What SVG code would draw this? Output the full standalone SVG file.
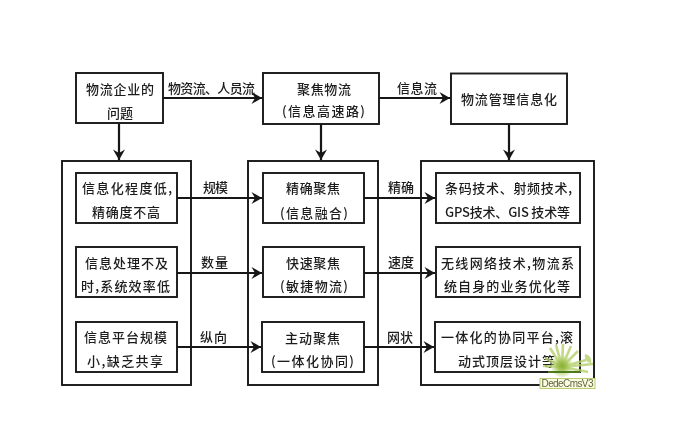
<svg xmlns="http://www.w3.org/2000/svg" width="686" height="431" viewBox="0 0 686 431">
<style>
.b{fill:#fff;stroke:#1a1a1a;stroke-width:1.9}
.p{fill:none;stroke:#1a1a1a;stroke-width:1.9}
text{font-family:"Noto Sans CJK SC","Liberation Sans",sans-serif;font-size:13px;fill:#1c1c1c;font-weight:500}
.c{fill:none;stroke:#161616;stroke-width:2.200;marker-end:url(#a)}
</style>
<defs>
<marker id="a" markerUnits="userSpaceOnUse" markerWidth="14" markerHeight="14" refX="12" refY="7" orient="auto">
<path d="M1.500 1L12 7L1.500 13L5 7Z" fill="#161616"/>
</marker>
<radialGradient id="g"><stop offset="0" stop-color="#8aae35"/><stop offset=".4" stop-color="#9cc04c" stop-opacity=".9"/><stop offset="1" stop-color="#cfe29a" stop-opacity=".35"/></radialGradient>
<filter id="s" filterUnits="userSpaceOnUse" x="0" y="0" width="686" height="431"><feGaussianBlur stdDeviation=".35"/></filter>
</defs>
<rect width="686" height="431" fill="#fff"/>
<g filter="url(#s)">
<g id="panel-left"><rect class="p" x="62" y="161" width="129" height="224"/></g>
<g id="panel-mid"><rect class="p" x="248" y="161" width="130" height="224"/></g>
<g id="panel-right"><rect class="p" x="421" y="161" width="173" height="224"/></g>
<g id="connectors">
<path class="c" d="M163 98H262"/><path class="c" d="M379 98H450"/>
<path class="c" d="M119 124V160"/><path class="c" d="M321 124V160"/><path class="c" d="M509 124V160"/>
<path class="c" d="M177 198H262"/><path class="c" d="M364 198H435"/>
<path class="c" d="M177 273H262"/><path class="c" d="M364 273H435"/>
<path class="c" d="M177 347H261"/><path class="c" d="M364 347H434"/>
</g>
<g id="n1"><rect class="b" x="76" y="73" width="87" height="50"/><text x="86" y="94" textLength="68">物流企业的</text><text x="107" y="118" textLength="26">问题</text></g>
<g id="n2"><rect class="b" x="263" y="73" width="116" height="51"/><text x="297" y="94" textLength="54">聚焦物流</text><text x="282" y="116" textLength="83">(信息高速路)</text></g>
<g id="n3"><rect class="b" x="451" y="73.500" width="116" height="50.500"/><text x="461" y="104" textLength="96">物流管理信息化</text></g>
<g id="l1"><rect class="b" x="76" y="173" width="101" height="50"/><text x="82" y="193" textLength="90">信息化程度低,</text><text x="92" y="217" textLength="68">精确度不高</text></g>
<g id="l2"><rect class="b" x="76" y="247" width="101" height="50"/><text x="85" y="268" textLength="83">信息处理不及</text><text x="81" y="291" textLength="89">时,系统效率低</text></g>
<g id="l3"><rect class="b" x="76" y="322" width="101" height="50"/><text x="84" y="342" textLength="83">信息平台规模</text><text x="87" y="366" textLength="76">小,缺乏共享</text></g>
<g id="m1"><rect class="b" x="263" y="173" width="101" height="50"/><text x="286" y="193" textLength="54">精确聚焦</text><text x="280" y="218" textLength="68">(信息融合)</text></g>
<g id="m2"><rect class="b" x="263" y="247" width="101" height="50"/><text x="286" y="268" textLength="54">快速聚焦</text><text x="280" y="291" textLength="68">(敏捷物流)</text></g>
<g id="m3"><rect class="b" x="262" y="322" width="102" height="50"/><text x="285" y="343" textLength="55">主动聚焦</text><text x="271" y="366" textLength="83">(一体化协同)</text></g>
<g id="r1"><rect class="b" x="436" y="173" width="144" height="50"/><text x="445" y="193" textLength="127">条码技术、射频技术,</text><text x="445" y="217" textLength="125">GPS技术、GIS 技术等</text></g>
<g id="r2"><rect class="b" x="436" y="247" width="144" height="50"/><text x="441" y="268" textLength="133">无线网络技术,物流系</text><text x="444" y="291" textLength="126">统自身的业务优化等</text></g>
<g id="r3"><rect class="b" x="435" y="322" width="145" height="50"/><text x="441" y="342" textLength="132">一体化的协同平台,滚</text><text x="458" y="366" textLength="97">动式顶层设计等</text></g>
<g id="labels">
<text x="168" y="93" textLength="87">物资流、人员流</text><text x="397" y="93" textLength="40">信息流</text>
<text x="203" y="192" textLength="25">规模</text><text x="388" y="192" textLength="26">精确</text>
<text x="201" y="267" textLength="27">数量</text><text x="388" y="267" textLength="26">速度</text>
<text x="200" y="342" textLength="27">纵向</text><text x="387" y="342" textLength="26">网状</text>
</g>
<g id="watermark">
<path d="M562 367L550 348M562 367L556 345M562 367L563 344M562 367L571 346M562 367L578 351M562 367L586 360M562 367L593 364M562 367L545 358M562 367L543 366M562 367L588 372" stroke="#b4d06c" stroke-width="2.600" opacity=".8" fill="none"/>
<circle cx="562" cy="366" r="11" fill="url(#g)"/>
<path d="M548 372H580" stroke="#4f7a1e" stroke-width="2"/>
<path d="M585 354c5 1 7 5 6 9c-4 0-7-4-6-9z" fill="#b4d06c" opacity=".8"/>
<rect x="540" y="378.500" width="55" height="10" fill="#fbfbe2" stroke="#bccb6c" stroke-width="1"/>
<text x="541.500" y="387" textLength="52" style="font-family:'Liberation Sans',sans-serif;font-size:10px;font-weight:400;fill:#5f6440">DedeCmsV3</text>
</g>
</g>
</svg>
